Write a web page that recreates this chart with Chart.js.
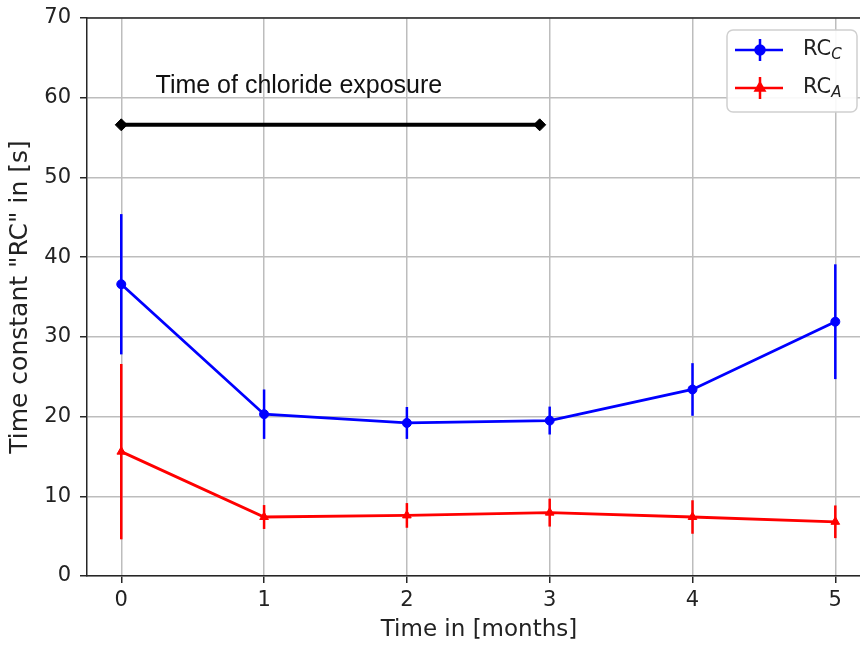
<!DOCTYPE html>
<html>
<head>
<meta charset="utf-8">
<script src="https://cdn.jsdelivr.net/npm/chart.js@4.4.0/dist/chart.umd.min.js"></script>
<style>
html,body{margin:0;padding:0;background:#fff;overflow:hidden;width:860px;height:645px;}
canvas{display:block;}
</style>
</head>
<body>
<canvas id="c" width="880" height="645" style="width:880px;height:645px"></canvas>
<script>
// ---- data ----
const months = [0, 1, 2, 3, 4, 5];
const rcC = [36.6, 20.3, 19.2, 19.5, 23.4, 31.9];
const rcCErr = [8.8, 3.1, 2.0, 1.75, 3.3, 7.2];
const rcA = [15.6, 7.4, 7.6, 7.95, 7.4, 6.8];
const rcAErr = [11.0, 1.5, 1.55, 1.75, 2.1, 2.05];
const exposureX = [0, 2.93];
const exposureY = [56.6, 56.6];
const exposureLabel = 'Time of chloride exposure';
const xTicks = [0, 1, 2, 3, 4, 5];
const yTicks = [0, 10, 20, 30, 40, 50, 60, 70];
const seriesNames = [['RC', 'C'], ['RC', 'A']];

const toXY = (xs, ys) => xs.map((x, i) => ({x: x, y: ys[i]}));

const errorBars = {
  id: 'errorBars',
  beforeDatasetsDraw(chart) {
    const {ctx, scales: {x, y}} = chart;
    const sets = [[rcC, rcCErr, '#0000ff'], [rcA, rcAErr, '#ff0000']];
    ctx.save();
    ctx.lineWidth = 2.5;
    sets.forEach(([vals, errs, col]) => {
      ctx.strokeStyle = col;
      vals.forEach((v, i) => {
        const px = x.getPixelForValue(months[i]);
        ctx.beginPath();
        ctx.moveTo(px, y.getPixelForValue(v + errs[i]));
        ctx.lineTo(px, y.getPixelForValue(v - errs[i]));
        ctx.stroke();
      });
    });
    ctx.restore();
  }
};

const extras = {
  id: 'extras',
  afterDraw(chart) {
    const {ctx, chartArea: ca, scales: {x, y}} = chart;
    ctx.save();
    // top spine
    ctx.strokeStyle = '#262626';
    ctx.lineWidth = 1.5;
    ctx.beginPath();
    ctx.moveTo(ca.left, ca.top);
    ctx.lineTo(ca.right, ca.top);
    ctx.stroke();
    // annotation text
    ctx.fillStyle = '#111';
    ctx.font = '25px "Liberation Sans", Arial, sans-serif';
    ctx.textBaseline = 'alphabetic';
    ctx.textAlign = 'left';
    ctx.fillText(exposureLabel, x.getPixelForValue(0.24), y.getPixelForValue(60.6));
    // legend
    const bx = ca.right - 144, by = ca.top + 12, bw = 130, bh = 82;
    ctx.fillStyle = 'rgba(255,255,255,0.9)';
    ctx.strokeStyle = '#d0d0d0';
    ctx.lineWidth = 1.5;
    ctx.beginPath();
    ctx.roundRect(bx, by, bw, bh, 6);
    ctx.fill();
    ctx.stroke();
    const cols = ['#0000ff', '#ff0000'];
    const styles = ['circle', 'triangle'];
    cols.forEach((col, i) => {
      const ly = by + 20 + i * 38;
      ctx.strokeStyle = col;
      ctx.fillStyle = col;
      ctx.lineWidth = 2.5;
      ctx.beginPath();
      ctx.moveTo(bx + 8, ly);
      ctx.lineTo(bx + 56, ly);
      ctx.moveTo(bx + 33, ly - 11);
      ctx.lineTo(bx + 33, ly + 11);
      ctx.stroke();
      Chart.helpers.drawPoint(ctx, {pointStyle: styles[i], radius: i ? 5 : 4.5, borderWidth: 1}, bx + 33, ly);
      ctx.fillStyle = '#222';
      ctx.font = '21px "DejaVu Sans", sans-serif';
      ctx.textBaseline = 'middle';
      ctx.fillText(seriesNames[i][0], bx + 76, ly);
      const w = ctx.measureText(seriesNames[i][0]).width;
      ctx.font = 'italic 15px "DejaVu Sans", sans-serif';
      ctx.fillText(seriesNames[i][1], bx + 76 + w, ly + 5);
    });
    ctx.restore();
  }
};

const tickFont = {family: '"DejaVu Sans", sans-serif', size: 21};

new Chart(document.getElementById('c'), {
  type: 'line',
  data: {
    datasets: [
      {
        label: 'RC_C',
        data: toXY(months, rcC),
        borderColor: '#0000ff',
        backgroundColor: '#0000ff',
        borderWidth: 2.8,
        pointStyle: 'circle',
        pointRadius: 4.5,
        pointBorderWidth: 1,
        tension: 0
      },
      {
        label: 'RC_A',
        data: toXY(months, rcA),
        borderColor: '#ff0000',
        backgroundColor: '#ff0000',
        borderWidth: 2.8,
        pointStyle: 'triangle',
        pointRadius: 5,
        pointBorderWidth: 1,
        tension: 0
      },
      {
        label: 'exposure',
        data: toXY(exposureX, exposureY),
        borderColor: '#000',
        backgroundColor: '#000',
        borderWidth: 4,
        pointStyle: 'rectRot',
        pointRadius: 6,
        pointBorderWidth: 1
      }
    ]
  },
  options: {
    responsive: false,
    animation: false,
    layout: {padding: {top: 18, right: 9, left: 0, bottom: 0}},
    plugins: {legend: {display: false}, tooltip: {enabled: false}},
    scales: {
      x: {
        type: 'linear',
        min: -0.24,
        max: 5.25,
        afterBuildTicks: s => { s.ticks = xTicks.map(v => ({value: v})); },
        afterFit: s => { s.height = 69; s.paddingLeft = 0; s.paddingRight = 0; },
        ticks: {font: tickFont, color: '#222', padding: 5, callback: v => String(v)},
        grid: {color: '#bdbdbd', lineWidth: 1.5, tickColor: '#262626', tickLength: 7},
        border: {color: '#262626', width: 1.5},
        title: {display: true, text: 'Time in [months]', color: '#222',
                font: {family: '"DejaVu Sans", sans-serif', size: 23}, padding: {top: 0, bottom: 1}}
      },
      y: {
        type: 'linear',
        min: 0,
        max: 70,
        afterBuildTicks: s => { s.ticks = yTicks.map(v => ({value: v})); },
        afterFit: s => { s.width = 87; s.paddingTop = 0; s.paddingBottom = 0; },
        ticks: {font: tickFont, color: '#222', padding: 9, callback: v => String(v)},
        grid: {color: '#bdbdbd', lineWidth: 1.5, tickColor: '#262626', tickLength: 7},
        border: {color: '#262626', width: 1.5},
        title: {display: true, text: 'Time constant "RC" in [s]', color: '#222',
                font: {family: '"DejaVu Sans", sans-serif', size: 25}, padding: {top: 5, bottom: 0}}
      }
    }
  },
  plugins: [errorBars, extras]
});
</script>
</body>
</html>
